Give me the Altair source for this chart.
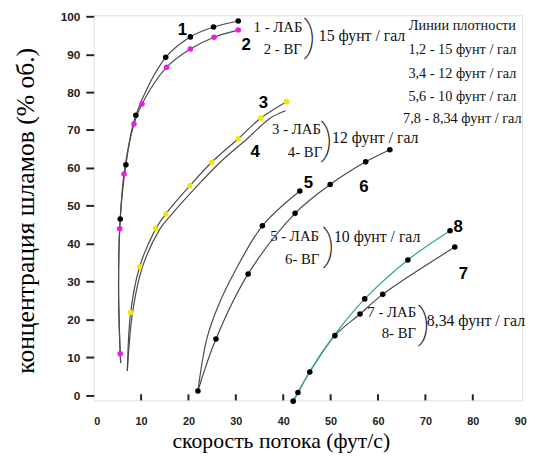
import altair as alt
import pandas as pd

# ---------------- data ----------------
# line paths (x = скорость потока, y = концентрация шламов)
line1_x = [5.7, 5.6, 5.25, 5.6, 6.8, 8.9, 15.2, 20.4, 25.3, 30.5]
line1_y = [8.5, 10.9, 28.0, 46.5, 60.8, 73.9, 89.2, 94.6, 97.2, 98.8]
line2_x = [5.7, 5.6, 5.25, 5.5, 6.4, 8.5, 10.2, 15.4, 20.4, 25.4, 30.5]
line2_y = [8.5, 10.9, 28.0, 43.9, 58.4, 71.6, 76.9, 86.6, 91.4, 94.5, 96.4]
line3_x = [7.1, 7.8, 9.7, 13.1, 15.2, 20.3, 24.9, 30.5, 35.3, 40.7]
line3_y = [6.4, 21.8, 33.9, 43.9, 47.8, 55.3, 61.5, 67.7, 73.2, 77.5]
line4_x = [7.1, 8.2, 10.3, 14.0, 16.5, 21.9, 26.7, 32.4, 37.3, 40.5]
line4_y = [6.4, 21.8, 33.9, 43.9, 47.8, 55.3, 61.5, 67.7, 73.2, 75.1]
line5_x = [22.0, 23.9, 26.6, 29.6, 35.6, 43.5]
line5_y = [1.1, 15.0, 24.5, 32.2, 44.7, 53.9]
line6_x = [22.0, 25.8, 32.6, 42.5, 49.9, 57.4, 62.5]
line6_y = [1.1, 14.8, 32.0, 48.0, 55.6, 61.6, 64.8]
line7_x = [42.1, 43.1, 45.6, 50.9, 56.2, 61.0, 76.2]
line7_y = [-1.6, 0.7, 6.1, 15.7, 21.4, 26.6, 39.1]
line8_x = [42.1, 43.3, 45.6, 50.9, 57.2, 66.3, 75.2]
line8_y = [-1.6, 1.0, 6.3, 16.0, 25.4, 35.7, 43.4]

# measured points (markers)
dot1_x = [5.6, 6.8, 8.9, 15.2, 20.4, 25.3, 30.5]
dot1_y = [46.5, 60.8, 73.9, 89.2, 94.6, 97.2, 98.8]
dot2_x = [5.6, 5.5, 6.4, 8.5, 10.2, 15.4, 20.4, 25.4, 30.5]
dot2_y = [10.9, 43.9, 58.4, 71.6, 76.9, 86.6, 91.4, 94.5, 96.4]
dot3_x = [7.8, 9.7, 13.1, 15.2, 20.3, 24.9, 30.5, 35.3, 40.7]
dot3_y = [21.8, 33.9, 43.9, 47.8, 55.3, 61.5, 67.7, 73.2, 77.5]
dot5_x = [22.0, 35.6, 43.5]
dot5_y = [1.1, 44.7, 53.9]
dot6_x = [25.8, 32.6, 42.5, 49.9, 57.4, 62.5]
dot6_y = [14.8, 32.0, 48.0, 55.6, 61.6, 64.8]
dot7_x = [42.1, 43.1, 45.6, 50.9, 56.2, 61.0, 76.2]
dot7_y = [-1.6, 0.7, 6.1, 15.7, 21.4, 26.6, 39.1]
dot8_x = [57.2, 66.3, 75.2]
dot8_y = [25.4, 35.7, 43.4]

# texts
num_text = ["1", "2", "3", "4", "5", "6", "7", "8"]
num_x = [18.7, 32.2, 35.8, 34.1, 45.3, 57.0, 78.0, 76.9]
num_y = [96.3, 92.4, 77.0, 64.3, 55.9, 54.9, 31.9, 44.4]

ann_text = ["1 - ЛАБ", "2 - ВГ", "3 - ЛАБ", "4- ВГ", "5 - ЛАБ", "6- ВГ", "7 - ЛАБ", "8- ВГ"]
ann_x = [38.9, 39.9, 42.8, 44.6, 42.4, 44.0, 62.9, 64.4]
ann_y = [97.1, 91.4, 70.2, 64.2, 42.1, 35.9, 22.0, 16.3]

dens_text = ["15 фунт / гал", "12 фунт / гал", "10 фунт / гал", "8,34 фунт / гал"]
dens_x = [47.5, 50.3, 50.7, 70.3]
dens_y = [94.9, 67.9, 41.8, 19.5]
brace_x = [45.6, 49.2, 49.6, 69.7]
brace_y = [94.4, 67.3, 39.2, 18.7]

leg_text = ["Линии плотности", "1,2 - 15 фунт / гал", "3,4 - 12 фунт / гал",
            "5,6 - 10 фунт / гал", "7,8 - 8,34 фунт / гал"]
leg_x = [77.8, 77.8, 77.8, 77.8, 77.8]
leg_y = [97.5, 91.0, 84.9, 78.8, 72.8]

x_ticks = [0, 10, 20, 30, 40, 50, 60, 70, 80, 90]
x_inner_ticks = [10, 20, 30, 40, 50, 60, 70, 80]
y_ticks = [0, 10, 20, 30, 40, 50, 60, 70, 80, 90, 100]

# ---------------- tables ----------------
def path(name, xs, ys):
    return pd.DataFrame({"curve": name, "order": range(len(xs)), "x": xs, "y": ys})

gray_lines = pd.concat([
    path("1", line1_x, line1_y), path("2", line2_x, line2_y),
    path("3", line3_x, line3_y), path("4", line4_x, line4_y),
    path("5", line5_x, line5_y), path("6", line6_x, line6_y),
    path("7", line7_x, line7_y),
])
green_line = path("8", line8_x, line8_y)

def dots(kind, xs, ys):
    return pd.DataFrame({"kind": kind, "x": xs, "y": ys})

dots_df = pd.concat([
    dots("black", dot1_x, dot1_y), dots("magenta", dot2_x, dot2_y),
    dots("yellow", dot3_x, dot3_y), dots("black", dot5_x, dot5_y),
    dots("black", dot6_x, dot6_y), dots("black", dot7_x, dot7_y),
    dots("black", dot8_x, dot8_y),
])

nums = pd.DataFrame({"t": num_text, "x": num_x, "y": num_y})
anns = pd.DataFrame({"t": ann_text, "x": ann_x, "y": ann_y})
dens = pd.DataFrame({"t": dens_text, "x": dens_x, "y": dens_y})
braces = pd.DataFrame({"t": [")"] * 4, "x": brace_x, "y": brace_y})
legend = pd.DataFrame({"t": leg_text, "x": leg_x, "y": leg_y})
inner = pd.DataFrame({"x": x_inner_ticks, "y": [-1.4] * len(x_inner_ticks),
                      "y1": [0.2] * len(x_inner_ticks)})

# ---------------- chart ----------------
xs = alt.Scale(domain=[0, 90.4], nice=False, zero=False)
ys = alt.Scale(domain=[-1.4, 100.3], nice=False, zero=False)

SERIF = "Liberation Serif"
x_axis = alt.Axis(values=x_ticks, ticks=False, domain=False, grid=False, labelOverlap=False,
                  labelFont="Liberation Sans", labelFontWeight="bold", labelFontSize=11,
                  labelColor="#222", labelPadding=16,
                  title="скорость потока (фут/с)", titleFont=SERIF, titleFontSize=22,
                  titleFontWeight="normal", titleColor="#000",
                  titleX=190, titleY=48, titleAlign="center", titleBaseline="alphabetic")
y_axis = alt.Axis(values=y_ticks, tickCount=11, ticks=True, tickSize=8, tickWidth=2,
                  tickColor="#222", domain=False, grid=False, labelOverlap=False,
                  labelFont="Liberation Sans", labelFontWeight="bold", labelFontSize=12,
                  labelColor="#222", labelPadding=6,
                  title="концентрация шламов (% об.)", titleFont=SERIF, titleFontSize=26,
                  titleFontWeight="normal", titleColor="#000",
                  titleX=-69, titleY=198, titleAngle=-90, titleAlign="center",
                  titleBaseline="middle")

X = alt.X("x:Q", scale=xs, axis=x_axis)
Y = alt.Y("y:Q", scale=ys, axis=y_axis)

lines = alt.Chart(gray_lines).mark_line(
    color="#4a4a4a", strokeWidth=1.2, interpolate="catmull-rom"
).encode(x=X, y=Y, detail="curve:N", order="order:Q")

green = alt.Chart(green_line).mark_line(
    color="#2fb07f", strokeWidth=1.3, interpolate="catmull-rom"
).encode(x=X, y=Y, order="order:Q")

pts = alt.Chart(dots_df).mark_point(filled=True, size=32, opacity=1, shape="circle").encode(
    x=X, y=Y,
    color=alt.Color("kind:N", legend=None,
                    scale=alt.Scale(domain=["black", "magenta", "yellow"],
                                    range=["#000000", "#e61ee6", "#f5e600"])),
)

ticks_in = alt.Chart(inner).mark_rule(color="#222", strokeWidth=2).encode(
    x=X, y=Y, y2="y1:Q")

num_layer = alt.Chart(nums).mark_text(
    font="Liberation Sans Narrow, Liberation Sans", fontWeight="bold", fontSize=17,
    color="#000", baseline="middle", align="center"
).encode(x=X, y=Y, text="t:N")

ann_layer = alt.Chart(anns).mark_text(
    font=SERIF, fontSize=15, color="#111", baseline="middle", align="center"
).encode(x=X, y=Y, text="t:N")

dens_layer = alt.Chart(dens).mark_text(
    font=SERIF, fontSize=16, color="#111", baseline="middle", align="left"
).encode(x=X, y=Y, text="t:N")

brace_layer = alt.Chart(braces).mark_text(
    font="Roboto", fontWeight=100, fontSize=42, color="#111", baseline="middle", align="center"
).encode(x=X, y=Y, text="t:N")

legend_layer = alt.Chart(legend).mark_text(
    font=SERIF, fontSize=14.5, color="#111", baseline="middle", align="center"
).encode(x=X, y=Y, text="t:N")

chart = alt.layer(
    lines, green, ticks_in, pts, num_layer, ann_layer, dens_layer, brace_layer, legend_layer
).properties(
    width=435, height=391,
    autosize=alt.AutoSizeParams(type="none"),
    padding={"left": 87, "top": 4, "right": 5, "bottom": 50},
).configure_view(
    stroke="#8c8c8c", strokeWidth=1.5
).configure(background="white")

chart.save("out.html", embed_options={"renderer": "svg", "actions": False})
